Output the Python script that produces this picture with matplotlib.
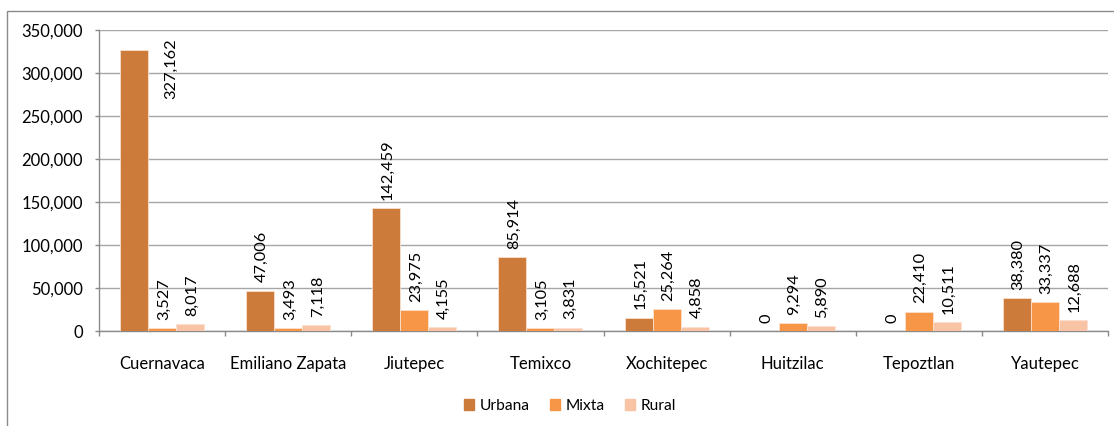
import matplotlib
matplotlib.use("Agg")
import matplotlib.pyplot as plt
import numpy as np
from matplotlib.patches import Rectangle, Patch
from matplotlib.ticker import FuncFormatter, MultipleLocator

categories = ["Cuernavaca", "Emiliano Zapata", "Jiutepec", "Temixco",
              "Xochitepec", "Huitzilac", "Tepoztlan", "Yautepec"]
urbana = [327162, 47006, 142459, 85914, 15521, 0, 0, 38380]
mixta = [3527, 3493, 23975, 3105, 25264, 9294, 22410, 33337]
rural = [8017, 7118, 4155, 3831, 4858, 5890, 10511, 12688]
series_names = ["Urbana", "Mixta", "Rural"]
colors = ["#CC7B3A", "#F79646", "#F9C3A5"]

plt.rcParams['font.family'] = ['Lato', 'DejaVu Sans']

W, H = 1114, 426
fig = plt.figure(figsize=(W / 100, H / 100), dpi=100)
# outer chart border (right and bottom edges fall outside the image)
fig.patches.append(Rectangle((7 / W, -10 / H), (1130 - 7) / W, (415 + 10) / H,
                             transform=fig.transFigure, fill=False,
                             edgecolor="#8A8A8A", linewidth=1.0))

ax = fig.add_axes([99 / W, (H - 331) / H, (1108 - 99) / W, 301 / H])
ymax = 350000
ax.set_ylim(0, ymax)
ax.set_xlim(-0.5, len(categories) - 0.5)

x = np.arange(len(categories))
bw = 0.222
all_series = [urbana, mixta, rural]
for i, (vals, name, col) in enumerate(zip(all_series, series_names, colors)):
    xs = x + (i - 1) * bw
    ax.bar(xs, vals, width=bw, color=col, edgecolor="#FBE0CF", linewidth=0.6,
           label=name, zorder=3)
    for xi, v in zip(xs, vals):
        txt = f"{v:,}"
        if v > 0.85 * ymax:
            ax.annotate(txt, (xi + bw / 2, v), xytext=(16.5, 8.0),
                        textcoords="offset points", rotation=90,
                        ha="center", va="top", fontsize=11.8, zorder=4)
        else:
            ax.annotate(txt, (xi, v), xytext=(1.2, 6.0),
                        textcoords="offset points", rotation=90,
                        ha="center", va="bottom", fontsize=11.8, zorder=4)

ax.yaxis.set_major_locator(MultipleLocator(50000))
ax.yaxis.set_major_formatter(FuncFormatter(lambda v, p: f"{int(v):,}"))
ax.grid(axis="y", color="#A6A6A6", linewidth=1.0, zorder=0)
ax.set_axisbelow(True)

ax.set_xticks(x)
ax.set_xticklabels(categories, fontsize=12)
ax.set_xticks(np.arange(-0.5, len(categories), 1), minor=True)
ax.tick_params(axis="x", which="major", length=0, pad=18)
ax.tick_params(axis="x", which="minor", length=3.6, color="#8A8A8A", width=1)
ax.tick_params(axis="y", length=3, color="#8A8A8A", width=1, labelsize=12, pad=8.5)

for s in ["top", "right"]:
    ax.spines[s].set_visible(False)
for s in ["left", "bottom"]:
    ax.spines[s].set_color("#8A8A8A")
    ax.spines[s].set_linewidth(1.0)

handles = [Patch(facecolor=c, edgecolor=c) for c in colors]
fig.legend(handles, series_names, loc="center", bbox_to_anchor=(570 / W, 1 - 406 / H),
           ncol=3, frameon=False, fontsize=11.2, handlelength=0.65, handleheight=0.65,
           handletextpad=0.35, columnspacing=1.3)

fig.savefig("out.png", dpi=100)
